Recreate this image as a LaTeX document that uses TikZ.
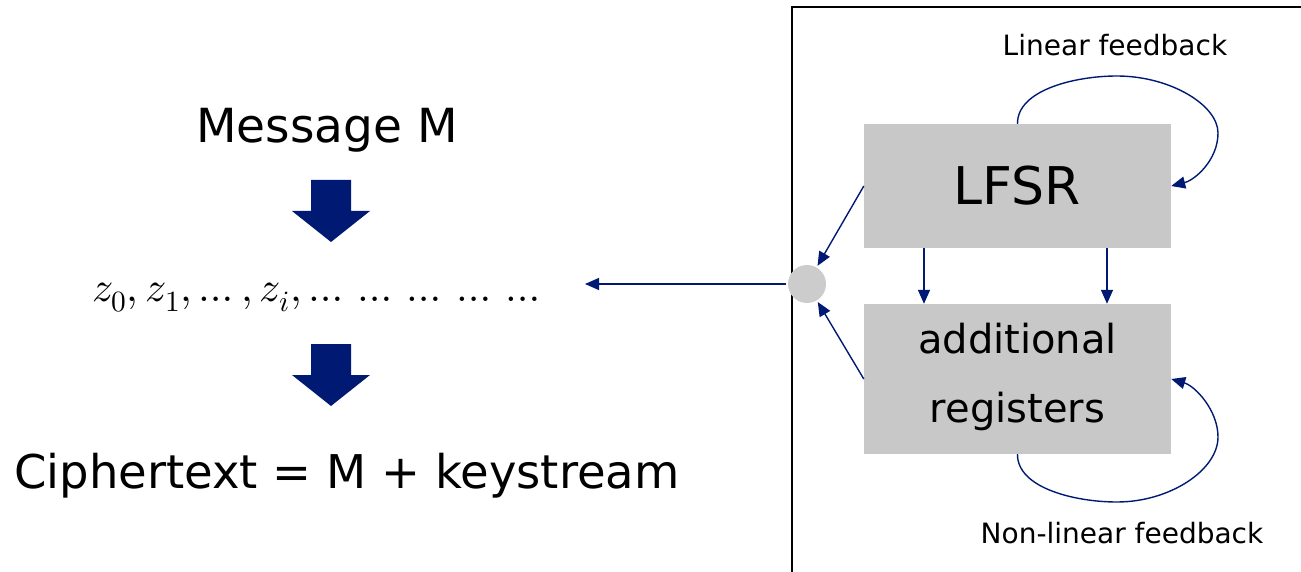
\documentclass[tikz,border=0pt]{standalone}
\usepackage{fontspec}
\usepackage{unicode-math}
\setmainfont{DejaVu Sans}
\setmathfont{Latin Modern Math}
\usetikzlibrary{arrows.meta}
\definecolor{navy}{RGB}{0,26,115}
\definecolor{regfill}{RGB}{200,200,200}
\definecolor{tapfill}{RGB}{204,204,204}
\tikzset{
  regbox/.style={fill=regfill, draw=none, minimum width=307pt, inner sep=0pt, align=center},
  wire/.style={draw=navy, line width=1.4pt, -{Triangle[length=14pt,width=12pt]}},
  blockarrow/.style={fill=navy, draw=none},
  label/.style={inner sep=0pt, anchor=base},
}
\newcommand{\fs}[1]{\fontsize{#1}{#1}\selectfont}
\begin{document}
\begin{tikzpicture}[x=1pt, y=-1pt]
\useasboundingbox (0,0) rectangle (1301,572);

% frame of the generator
\draw[line width=2pt] (792,600) -- (792,7) -- (1320,7);

% left column: message, keystream, ciphertext
\node[label] (msg) at (327,143) {\fs{47}Message M};
\node[inner sep=0pt, anchor=base west] (zseq) at (92,301)
  {\fs{42}$z_0, z_1, \ldots, z_i, \ldots\,\ldots\,\ldots\,\ldots\,\ldots$};
\node[inner sep=0pt, anchor=base west] (ct) at (14,488) {\fs{46.5}Ciphertext = M + keystream};

% block arrows
\fill[blockarrow] (311,180) -- (351,180) -- (351,211) -- (370,211) -- (331,242)
  -- (292,211) -- (311,211) -- cycle;
\fill[blockarrow] (311,344) -- (351,344) -- (351,375) -- (370,375) -- (331,406)
  -- (292,375) -- (311,375) -- cycle;

% registers
\node[regbox, minimum height=124pt] (lfsr) at (1017.5,186) {\fs{52}LFSR};
\node[regbox, minimum height=150pt] (add) at (1017.5,379)
  {\fs{40}\begin{tabular}{@{}c@{}}additional\\[27pt]registers\end{tabular}};

% output tap
\node[circle, fill=tapfill, minimum size=38pt, inner sep=0pt, outer sep=2pt] (tap) at (807,284) {};
\coordinate (ztip) at (585,284);

% connectors
\draw[wire] (lfsr.west) -- (tap);
\draw[wire] (add.west) -- (tap);
\draw[wire] (tap.west) -- (ztip);
\draw[wire] (lfsr.south -| 924,0) -- (add.north -| 924,0);
\draw[wire] (lfsr.south -| 1107,0) -- (add.north -| 1107,0);

% feedback loops
\draw[wire] (lfsr.north) .. controls (1017,90) and (1075,76) .. (1117,76)
  .. controls (1170,76) and (1218,105) .. (1218,133)
  .. controls (1218,160) and (1195,180) .. (lfsr.east);
\draw[wire] (add.south) .. controls (1017,488) and (1075,502) .. (1117,502)
  .. controls (1170,502) and (1218,470) .. (1218,437)
  .. controls (1218,410) and (1195,386) .. (add.east);

\node[label] (lin) at (1115,56) {\fs{28}Linear feedback};
\node[label] (nonlin) at (1122,543) {\fs{28}Non-linear feedback};
\end{tikzpicture}
\end{document}
